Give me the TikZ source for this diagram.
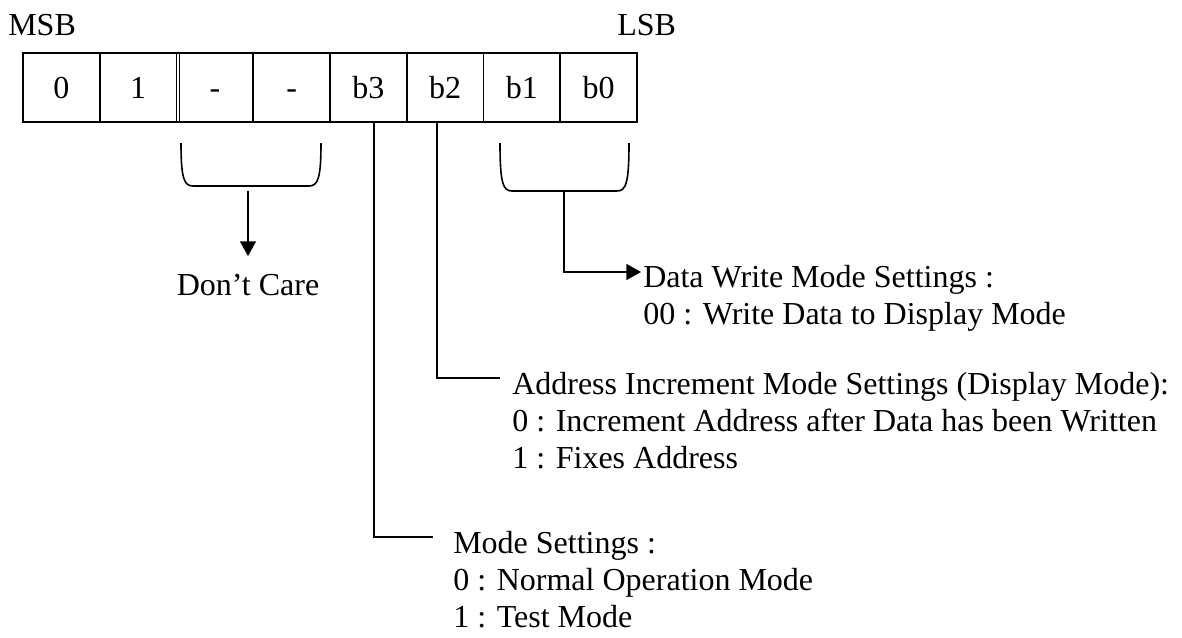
\documentclass[tikz,border=0pt]{standalone}
\usepackage{fontspec}
\setmainfont{Liberation Serif}
\usetikzlibrary{arrows.meta}
\begin{document}
\begin{tikzpicture}[x=0.75pt,y=-0.75pt,
  every node/.style={font=\fontsize{24}{27.75}\selectfont},
  cell/.style={draw,line width=1.2pt,minimum width=57.56pt,minimum height=51.75pt,inner sep=0pt,text height=15.75pt,text depth=0pt},
  txt/.style={anchor=base west,inner sep=0pt},
  ln/.style={line width=1.2pt},
  arr/.style={line width=1.2pt,-{Triangle[length=11pt,width=12pt]}}]
\useasboundingbox (0,0) rectangle (1182,637);
% register cells
\node[cell] (c7) at (61.4,87.5) {0};
\node[cell] (c6) at (138.1,87.5) {1};
\node[cell] (c5) at (214.9,87.5) {-};
\node[cell] (c4) at (291.6,87.5) {-};
\node[cell] (c3) at (368.4,87.5) {b3};
\node[cell] (c2) at (445.1,87.5) {b2};
\node[cell] (c1) at (521.9,87.5) {b1};
\node[cell] (c0) at (598.6,87.5) {b0};
\draw[ln] (179.3,53.5) -- (179.3,121.5);
% MSB / LSB
\node[txt] (msb) at (8,35) {MSB};
\node[txt] (lsb) at (617,35) {LSB};
% Don't care bracket
\draw[ln] (181,143) .. controls (181,178) and (184,186) .. (193,186) -- (309,186) .. controls (318,186) and (321,178) .. (321,143);
\coordinate (dcs) at (248,191);
\coordinate (dce) at (248,256);
\draw[arr] (dcs) -- (dce);
\node[anchor=base,inner sep=0pt] (dc) at (248,295) {Don’t Care};
% b1 b0 bracket
\draw[ln] (500,143) .. controls (500,183) and (503,191) .. (512,191) -- (617,191) .. controls (626,191) and (629,183) .. (629,143);
\coordinate (dws) at (564,191);
\coordinate (dwc) at (564,272);
\coordinate (dwe) at (641,272);
\node[txt] (dw1) at (643,287) {Data Write Mode Settings :};
\node[txt] (dw2) at (643,324) {00 : Write Data to Display Mode};
\draw[arr] (dws) -- (dwc) -- (dwe);
% b2
\node[txt] (ai1) at (512,394) {Address Increment Mode Settings (Display Mode):};
\node[txt] (ai2) at (512,431) {0 : Increment Address after Data has been Written};
\node[txt] (ai3) at (512,468) {1 : Fixes Address};
\coordinate (b2s) at (437,122);
\coordinate (b2c) at (437,378);
\coordinate (b2e) at (500,378);
\draw[ln] (b2s) -- (b2c) -- (b2e);
% b3
\node[txt] (ms1) at (453,553) {Mode Settings :};
\node[txt] (ms2) at (453,590) {0 : Normal Operation Mode};
\node[txt] (ms3) at (453,627) {1 : Test Mode};
\coordinate (b3s) at (374,122);
\coordinate (b3c) at (374,537);
\coordinate (b3e) at (433,537);
\draw[ln] (b3s) -- (b3c) -- (b3e);
\end{tikzpicture}
\end{document}
